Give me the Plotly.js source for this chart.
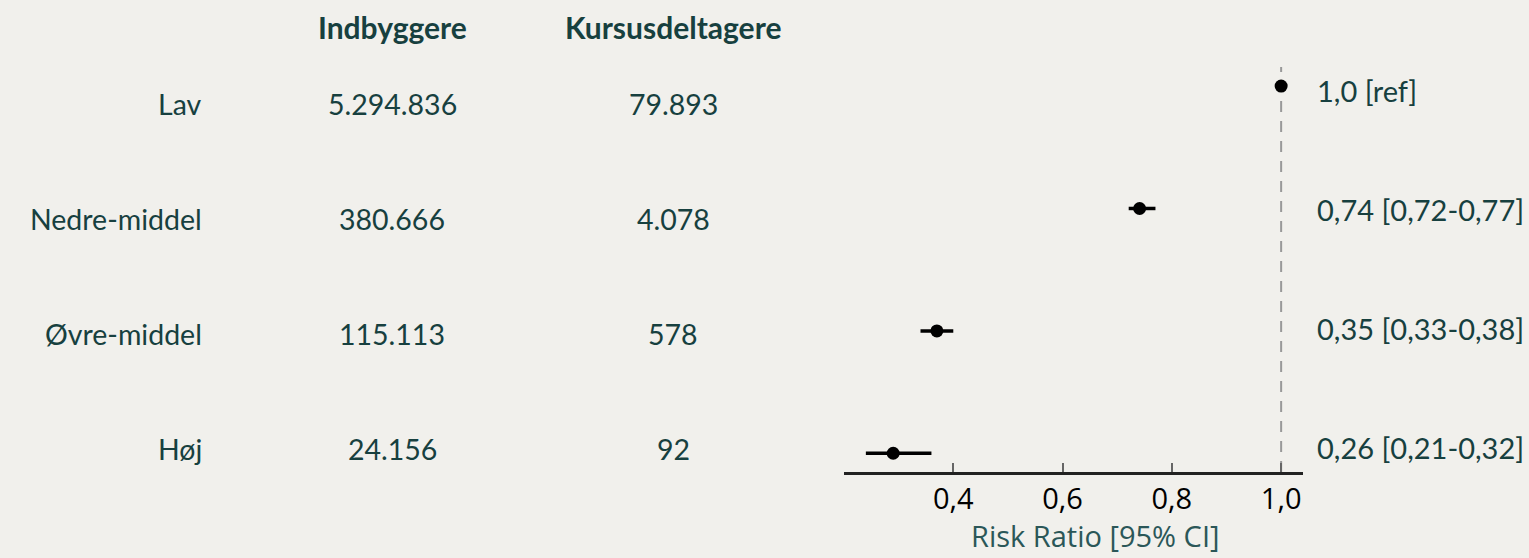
<!DOCTYPE html>
<html>
<head>
<meta charset="utf-8">
<script src="https://cdn.plot.ly/plotly-3.0.1.min.js"></script>
<style>
html,body{margin:0;padding:0;background:#f1f0ec;}
#chart{width:1529px;height:558px;}
</style>
</head>
<body>
<div id="chart"></div>
<script>
// ---- data ----
const groups = ["Lav", "Nedre-middel", "Øvre-middel", "Høj"];
const indbyggere = ["5.294.836", "380.666", "115.113", "24.156"];
const kursusdeltagere = ["79.893", "4.078", "578", "92"];
const rrPoint = [1.0, 0.741, 0.37, 0.29];
const ciLow = [1.0, 0.721, 0.34, 0.24];
const ciHigh = [1.0, 0.77, 0.40, 0.36];
const rrLabels = ["1,0 [ref]", "0,74 [0,72-0,77]", "0,35 [0,33-0,38]", "0,26 [0,21-0,32]"];
const headers = ["Indbyggere", "Kursusdeltagere"];
const xTicks = [0.4, 0.6, 0.8, 1.0];
const axisTitle = "Risk Ratio [95% CI]";
const refValue = 1.0;

// row index: top row = highest y
const n = groups.length;
const rowY = groups.map((g, i) => n - 1 - i);

const textColor = "#17403f";
const font = "Lato, 'Open Sans', sans-serif";

const trace = {
  type: "scatter",
  mode: "markers",
  x: rrPoint,
  y: rowY,
  marker: {color: "#000000", size: 13, symbol: "circle"},
  error_x: {
    type: "data",
    symmetric: false,
    array: rrPoint.map((v, i) => ciHigh[i] - v),
    arrayminus: rrPoint.map((v, i) => v - ciLow[i]),
    color: "#000000",
    thickness: 3.5,
    width: 0
  },
  hoverinfo: "skip",
  showlegend: false,
  cliponaxis: false
};

const annotations = [];
const tableFont = {family: font, size: 28.5, color: textColor};
const rrFont = {family: font, size: 29, color: textColor};
groups.forEach((g, i) => {
  annotations.push({xref: "paper", yref: "y2", x: -1.3943, y: rowY[i], text: g,
    xanchor: "right", yanchor: "middle", showarrow: false, font: tableFont});
  annotations.push({xref: "paper", yref: "y2", x: -0.9847, y: rowY[i], text: indbyggere[i],
    xanchor: "center", yanchor: "middle", showarrow: false, font: tableFont});
  annotations.push({xref: "paper", yref: "y2", x: -0.3725, y: rowY[i], text: kursusdeltagere[i],
    xanchor: "center", yanchor: "middle", showarrow: false, font: tableFont});
  annotations.push({xref: "paper", yref: "y3", x: 1.026, y: rowY[i], text: rrLabels[i],
    xanchor: "left", yanchor: "middle", showarrow: false, font: rrFont});
});
const headerX = [-0.9847, -0.3725];
headers.forEach((h, i) => {
  annotations.push({xref: "paper", yref: "paper", x: headerX[i], y: 1.037, text: "<b>" + h + "</b>",
    xanchor: "center", yanchor: "middle", showarrow: false,
    font: {family: font, size: 30, color: textColor}});
});
// axis title (offset to the right of the plot centre, as in the original)
annotations.push({xref: "paper", yref: "paper", x: 0.547, y: -0.149, text: axisTitle,
  xanchor: "center", yanchor: "middle", showarrow: false,
  font: {family: "'Open Sans', sans-serif", size: 29, color: "#2b5758"}});

const layout = {
  width: 1529,
  height: 558,
  paper_bgcolor: "#f1f0ec",
  plot_bgcolor: "#f1f0ec",
  separators: ",.",
  margin: {l: 844, r: 226, t: 43, b: 86},
  showlegend: false,
  xaxis: {
    range: [0.2, 1.04],
    tickvals: xTicks,
    tickformat: ".1f",
    ticks: "inside",
    ticklen: 9,
    tickwidth: 2,
    tickcolor: "#666666",
    showline: true,
    linecolor: "#222222",
    linewidth: 2.5,
    showgrid: false,
    zeroline: false,
    tickfont: {family: "'Open Sans', sans-serif", size: 29, color: "#000000"},
    fixedrange: true
  },
  yaxis: {
    range: [-0.153, 3.352],
    visible: false,
    fixedrange: true
  },
  yaxis2: {range: [-0.2, 3.53], overlaying: "y", visible: false, fixedrange: true},
  yaxis3: {range: [-0.21, 3.395], overlaying: "y", visible: false, fixedrange: true},
  shapes: [{
    type: "line", xref: "x", yref: "y",
    x0: refValue, x1: refValue, y0: -0.153, y1: 3.155,
    line: {color: "#999999", width: 2, dash: "11px,9px"},
    layer: "below"
  }],
  annotations: annotations
};

Plotly.newPlot("chart", [trace], layout, {displayModeBar: false, staticPlot: true});
</script>
</body>
</html>
